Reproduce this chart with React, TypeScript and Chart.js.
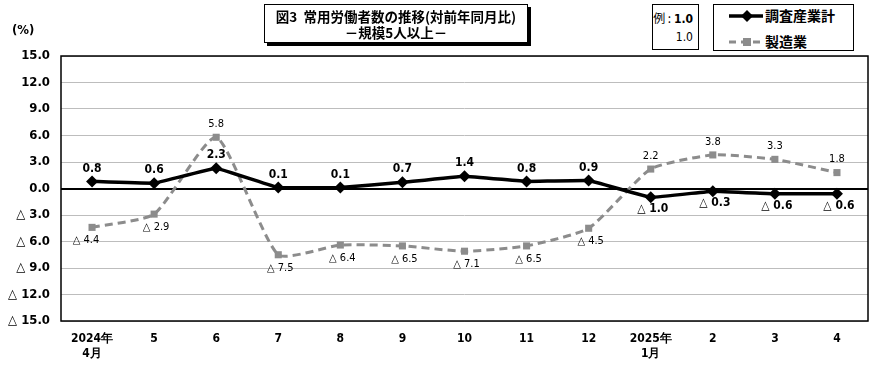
import React, { useEffect, useRef } from "react";
import { Chart, registerables } from "chart.js";

Chart.register(...registerables);

const categories: (string | string[])[] = [
  ["2024年", "4月"], "5", "6", "7", "8", "9", "10", "11", "12", ["2025年", "1月"], "2", "3", "4",
];
const allIndustries = [0.8, 0.6, 2.3, 0.1, 0.1, 0.7, 1.4, 0.8, 0.9, -1.0, -0.3, -0.6, -0.6];
const manufacturing = [-4.4, -2.9, 5.8, -7.5, -6.4, -6.5, -7.1, -6.5, -4.5, 2.2, 3.8, 3.3, 1.8];
const seriesNames = ["調査産業計", "製造業"];
const yMin = -15;
const yMax = 15;
const yStep = 3;

const NUM_FONT = '"Liberation Sans Narrow", "DejaVu Sans Condensed", "Liberation Sans", sans-serif';
const JP_FONT = '"Noto Sans CJK JP", sans-serif';

const fmt = (v: number) => (v < 0 ? "△ " + Math.abs(v).toFixed(1) : v.toFixed(1));

const labelPlugin = {
  id: "customLabels",
  afterDatasetsDraw(chart: any) {
    const ctx = chart.ctx;
    const area = chart.chartArea;
    ctx.save();
    ctx.strokeStyle = "#000";
    ctx.lineWidth = 1.5;
    ctx.strokeRect(area.left, area.top, area.right - area.left, area.bottom - area.top);
    chart.data.datasets.forEach((ds: any, di: number) => {
      const meta = chart.getDatasetMeta(di);
      meta.data.forEach((pt: any, i: number) => {
        const v = ds.data[i];
        const txt = fmt(v);
        ctx.fillStyle = "#000";
        ctx.textBaseline = "middle";
        ctx.textAlign = "center";
        if (di === 0) {
          ctx.font = "bold 12px " + NUM_FONT;
          if (v >= 0) ctx.fillText(txt, pt.x, pt.y - 13);
          else ctx.fillText(txt, pt.x + 2, pt.y + 12);
        } else {
          ctx.font = "11px " + NUM_FONT;
          if (v >= 0) ctx.fillText(txt, pt.x, pt.y - 13);
          else ctx.fillText(txt, pt.x + (i === 0 ? -6 : 2), pt.y + 13);
        }
      });
    });
    ctx.restore();
  },
};

export default function App() {
  const ref = useRef<HTMLCanvasElement | null>(null);
  useEffect(() => {
    document.body.style.margin = "0";
    const chart = new Chart(ref.current as HTMLCanvasElement, {
      type: "line",
      data: {
        labels: categories,
        datasets: [
          {
            label: seriesNames[0],
            data: allIndustries,
            borderColor: "#000",
            backgroundColor: "#000",
            borderWidth: 3.5,
            pointStyle: "rectRot",
            pointRadius: 6,
            pointBorderWidth: 0,
            tension: 0.05,
            order: 0,
          },
          {
            label: seriesNames[1],
            data: manufacturing,
            borderColor: "#8c8c8c",
            backgroundColor: "#8c8c8c",
            borderWidth: 3,
            borderDash: [8, 5],
            pointStyle: "rect",
            pointRadius: 5,
            pointBorderWidth: 0,
            tension: 0.18,
            order: 1,
          },
        ],
      },
      options: {
        animation: false,
        responsive: false,
        layout: { padding: { top: 56, right: 22, left: 0, bottom: 0 } },
        plugins: { legend: { display: false }, tooltip: { enabled: false }, title: { display: false } },
        scales: {
          x: {
            offset: true,
            grid: { display: false, drawTicks: false },
            border: { display: false },
            ticks: {
              color: "#000",
              font: { family: NUM_FONT, size: 12, weight: "bold" },
              padding: 11,
              maxRotation: 0,
              autoSkip: false,
            },
            afterFit: (s: any) => {
              s.height = 52;
            },
          },
          y: {
            min: yMin,
            max: yMax,
            grid: {
              drawTicks: false,
              color: (c: any) => (c.tick && c.tick.value === 0 ? "#000" : "#bdbdbd"),
              lineWidth: (c: any) => (c.tick && c.tick.value === 0 ? 2 : 1),
            },
            border: { display: false },
            ticks: {
              stepSize: yStep,
              color: "#000",
              padding: 11,
              font: { family: NUM_FONT, size: 13, weight: "bold" },
              callback: (v: any) => fmt(Number(v)),
            },
            afterFit: (s: any) => {
              s.width = 61;
            },
          },
        },
      },
      plugins: [labelPlugin],
    });
    return () => chart.destroy();
  }, []);

  const box: React.CSSProperties = {
    position: "absolute",
    border: "1px solid #000",
    background: "#fff",
    boxSizing: "border-box",
  };

  return (
    <div style={{ position: "relative", width: 890, height: 373, background: "#fff", overflow: "hidden" }}>
      <canvas ref={ref} width={890} height={373} style={{ position: "absolute", left: 0, top: 0 }} />
      <div
        style={{
          position: "absolute",
          left: 12,
          top: 22,
          fontFamily: NUM_FONT,
          fontWeight: "bold",
          fontSize: 13,
        }}
      >
        (%)
      </div>
      <div
        style={{
          ...box,
          left: 264,
          top: 4,
          width: 264,
          height: 39,
          boxShadow: "3px 3px 0 #000",
          fontFamily: JP_FONT,
          fontWeight: "bold",
          fontSize: 13.5,
          lineHeight: "16px",
          textAlign: "center",
          paddingTop: 3,
        }}
      >
        <div>図3&nbsp;&nbsp;常用労働者数の推移(対前年同月比)</div>
        <div>－規模5人以上－</div>
      </div>
      <div
        style={{
          ...box,
          left: 652,
          top: 4,
          width: 47,
          height: 46,
          fontSize: 12,
          textAlign: "right",
          paddingRight: 5,
          paddingTop: 4,
        }}
      >
        <div style={{ fontFamily: JP_FONT, lineHeight: "18px" }}>
          例 : <span style={{ fontFamily: NUM_FONT, fontWeight: "bold" }}>1.0</span>
        </div>
        <div style={{ fontFamily: NUM_FONT, lineHeight: "18px" }}>1.0</div>
      </div>
      <div style={{ ...box, left: 713, top: 4, width: 141, height: 47, fontFamily: JP_FONT, fontSize: 14, fontWeight: "bold" }}>
        <svg width={40} height={46} style={{ position: "absolute", left: 14, top: 0 }}>
          <line x1={1} y1={11} x2={35} y2={11} stroke="#000" strokeWidth={3.5} />
          <polygon points="19,5 25,11 19,17 13,11" fill="#000" />
          <line x1={1} y1={37} x2={35} y2={37} stroke="#8c8c8c" strokeWidth={3} strokeDasharray="7,5" />
          <rect x={15} y={33} width={8} height={8} fill="#8c8c8c" />
        </svg>
        <div style={{ position: "absolute", left: 51, top: 1, lineHeight: "18px" }}>{seriesNames[0]}</div>
        <div style={{ position: "absolute", left: 51, top: 27, lineHeight: "18px" }}>{seriesNames[1]}</div>
      </div>
    </div>
  );
}
